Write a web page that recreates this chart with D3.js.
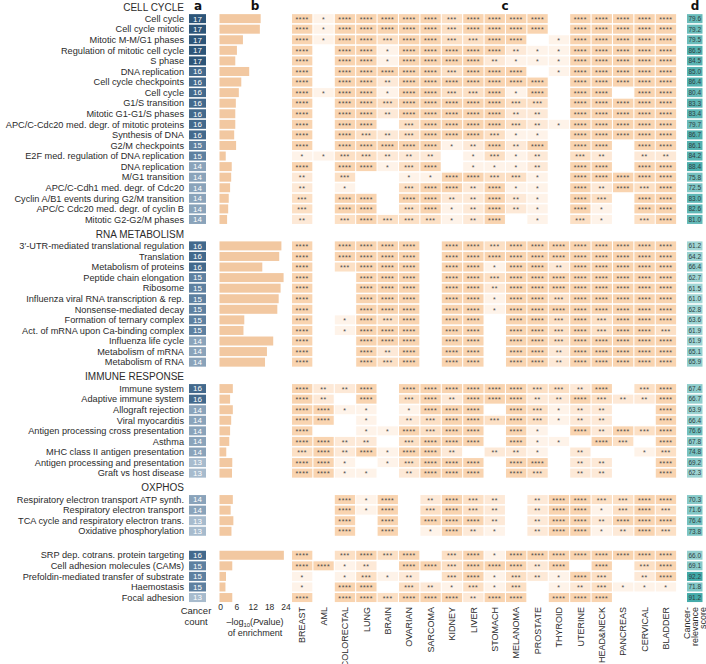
<!DOCTYPE html>
<html>
<head>
<meta charset="utf-8">
<script src="https://cdn.jsdelivr.net/npm/d3@7"></script>
<style>
  html, body { margin: 0; padding: 0; background: #fff; }
  svg { display: block; font-family: "Liberation Sans", Arial, sans-serif; }
</style>
</head>
<body>
<svg id="chart" width="706" height="664"></svg>
<script>
// ---------------- DATA ----------------
const cancers = ["BREAST","AML","COLORECTAL","LUNG","BRAIN","OVARIAN","SARCOMA","KIDNEY","LIVER","STOMACH","MELANOMA","PROSTATE","THYROID","UTERINE","HEAD&NECK","PANCREAS","CERVICAL","BLADDER"];

const groupNames = ["CELL CYCLE","RNA METABOLISM","IMMUNE RESPONSE","OXPHOS",""];

const terms = [
  // CELL CYCLE
  "Cell cycle","Cell cycle mitotic","Mitotic M-M/G1 phases","Regulation of mitotic cell cycle","S phase",
  "DNA replication","Cell cycle checkpoints","Cell cycle","G1/S transition","Mitotic G1-G1/S phases",
  "APC/C-Cdc20 med. degr. of mitotic proteins","Synthesis of DNA","G2/M checkpoints","E2F med. regulation of DNA replication","DNA replication",
  "M/G1 transition","APC/C-Cdh1 med. degr. of Cdc20","Cyclin A/B1 events during G2/M transition","APC/C Cdc20 med. degr. of cyclin B","Mitotic G2-G2/M phases",
  // RNA METABOLISM
  "3\u2032-UTR-mediated translational regulation","Translation","Metabolism of proteins","Peptide chain elongation","Ribosome",
  "Influenza viral RNA transcription & rep.","Nonsense-mediated decay","Formation of ternary complex","Act. of mRNA upon Ca-binding complex","Influenza life cycle",
  "Metabolism of mRNA","Metabolism of RNA",
  // IMMUNE RESPONSE
  "Immune system","Adaptive immune system","Allograft rejection","Viral myocarditis","Antigen processing cross presentation",
  "Asthma","MHC class II antigen presentation","Antigen processing and presentation","Graft vs host disease",
  // OXPHOS
  "Respiratory electron transport ATP synth.","Respiratory electron transport","TCA cycle and respiratory electron trans.","Oxidative phosphorylation",
  // other
  "SRP dep. cotrans. protein targeting","Cell adhesion molecules (CAMs)","Prefoldin-mediated transfer of substrate","Haemostasis","Focal adhesion"
];

const termGroup = [
  0,0,0,0,0,0,0,0,0,0,0,0,0,0,0,0,0,0,0,0,
  1,1,1,1,1,1,1,1,1,1,1,1,
  2,2,2,2,2,2,2,2,2,
  3,3,3,3,
  4,4,4,4,4
];

const cancerCount = [
  17,17,17,17,17,16,16,16,16,16,16,16,15,15,14,14,14,14,14,14,
  16,16,16,15,15,15,15,15,15,14,14,14,
  16,16,14,14,14,14,14,13,13,
  14,14,13,13,
  16,15,15,15,13
];

// -log10(P value) of enrichment
const enrichment = [
  14.9,14.6,8.4,6.2,5.6,10.7,7.8,6.9,5.8,5.6,5.6,5.2,5.9,2.1,4.3,4.1,3.7,3.2,3.0,2.6,
  22.5,21.7,15.5,23.3,22.2,21.5,21.0,8.9,8.6,19.5,17.2,16.5,
  4.7,3.7,4.7,4.1,3.7,3.4,2.3,4.5,4.4,
  4.7,3.9,4.9,4.2,
  23.4,4.5,2.2,2.0,4.5
];

const relevanceScore = [
  79.6,79.2,79.5,86.5,84.5,85.0,86.4,80.4,83.3,83.4,79.7,86.7,86.1,84.2,88.4,75.8,72.5,83.0,82.6,81.0,
  61.2,64.2,66.4,62.7,61.5,61.0,62.8,63.6,61.9,61.9,65.1,65.9,
  67.4,66.7,63.9,66.4,76.6,67.8,74.8,69.2,62.3,
  70.3,71.6,76.4,73.8,
  66.0,69.1,92.2,71.8,91.2
];

// number of significance stars per term (rows) and cancer (columns); 0 = not significant
const stars = [
  [4,1,4,4,4,4,4,3,4,4,4,4,0,4,4,4,4,4],
  [4,1,4,4,4,4,4,3,4,4,4,4,0,4,4,4,4,4],
  [4,1,4,4,3,4,4,3,3,4,4,0,1,4,4,4,4,4],
  [4,0,4,4,1,4,4,4,4,4,2,1,1,4,4,4,4,4],
  [4,0,4,4,1,4,4,4,4,2,1,1,1,4,4,4,4,4],
  [4,0,4,4,4,4,4,3,4,4,4,0,1,4,4,4,4,4],
  [4,0,4,4,2,4,4,4,4,4,4,4,0,4,4,4,4,4],
  [4,1,4,4,1,4,4,3,3,4,1,4,0,4,4,0,4,4],
  [4,0,4,4,3,4,4,4,4,4,3,3,0,4,4,4,4,4],
  [4,0,4,4,2,4,4,4,4,4,2,2,0,4,4,4,4,4],
  [4,0,4,4,0,3,4,4,4,4,3,2,1,4,4,4,4,4],
  [4,0,4,3,2,3,4,4,4,3,1,1,0,4,4,4,4,4],
  [4,0,4,4,4,4,4,1,2,4,2,4,0,4,4,0,4,4],
  [1,1,3,3,2,2,2,0,1,3,1,2,0,3,2,0,2,2],
  [4,0,4,4,1,3,4,0,1,1,1,2,0,4,4,0,4,4],
  [2,0,3,0,0,1,1,4,4,3,3,1,0,4,4,4,4,4],
  [2,0,1,0,0,3,4,4,2,4,1,1,0,4,2,4,3,4],
  [3,0,4,4,0,4,4,2,2,4,2,1,0,4,3,0,4,4],
  [3,0,4,4,0,3,4,1,2,4,2,1,0,4,1,0,4,4],
  [2,0,3,4,3,3,3,1,2,4,0,1,0,3,1,0,3,4],

  [4,0,4,4,4,4,0,4,4,3,4,4,4,4,4,4,4,4],
  [4,0,4,4,4,4,0,4,4,4,4,4,4,4,4,4,4,4],
  [4,0,3,4,4,4,0,4,4,1,4,4,2,4,4,4,4,4],
  [4,0,0,4,4,4,0,4,4,3,4,4,4,4,4,4,4,4],
  [4,0,0,4,4,4,0,4,4,2,4,4,4,4,4,4,4,4],
  [4,0,0,4,4,4,0,4,4,1,4,4,3,4,4,4,4,4],
  [4,0,0,4,4,4,0,4,4,1,4,4,4,4,4,4,4,4],
  [4,0,1,4,3,4,0,4,4,0,4,4,3,4,3,4,4,4],
  [4,0,1,4,4,4,0,4,4,0,4,4,3,4,3,4,4,3],
  [4,0,0,4,4,4,0,4,4,0,4,4,3,4,4,4,4,4],
  [4,0,0,4,2,4,0,4,4,0,4,4,2,4,4,4,4,4],
  [4,0,0,4,3,4,0,4,4,0,4,4,2,4,4,4,4,4],

  [4,2,2,4,0,4,4,4,4,4,4,3,3,2,4,0,3,4],
  [4,2,0,4,0,3,4,2,4,4,4,2,2,4,3,2,2,4],
  [4,4,1,1,0,1,4,4,4,0,4,3,1,2,2,0,0,4],
  [4,4,0,1,0,2,3,4,4,3,4,3,1,2,2,0,0,4],
  [4,0,0,1,1,4,3,4,4,0,4,1,0,4,2,4,3,4],
  [4,4,2,2,0,3,4,4,4,0,4,1,1,0,4,3,0,4],
  [3,4,2,4,1,4,4,2,0,2,2,1,0,2,0,0,1,3],
  [4,4,1,0,1,3,4,4,4,0,4,4,0,2,2,0,0,4],
  [4,4,1,1,0,2,4,4,4,0,4,3,0,2,2,0,0,4],

  [0,0,4,1,4,0,2,4,3,2,0,2,4,4,3,3,4,4],
  [0,0,4,1,4,0,3,4,3,2,0,2,4,4,1,3,4,3],
  [0,0,4,0,4,0,4,4,4,2,0,2,4,4,2,4,4,4],
  [0,0,4,0,4,0,1,4,2,1,0,2,4,4,1,2,4,3],

  [4,0,3,4,3,4,0,3,4,1,4,4,4,4,4,4,4,4],
  [4,4,1,2,0,4,4,3,4,4,4,2,4,0,4,0,3,4],
  [1,0,1,3,1,2,0,3,4,1,3,2,1,4,3,0,2,4],
  [1,0,4,4,0,3,2,1,3,1,3,0,1,2,3,1,1,1],
  [4,0,4,4,3,4,4,4,2,4,4,0,4,4,4,0,0,0]
];

const barTicks = [0, 6, 12, 18, 24];
const panelLetters = ["a","b","c","d"];

// ---------------- LAYOUT ----------------
const svg = d3.select("#chart");
const FONT = "'Liberation Sans', Arial, sans-serif";
const TEXT = "#2b2b2b";

// row slots: header then rows, with gaps between groups
const slotOfRow = [];
const headerSlot = [];
let slot = 0;
groupNames.forEach((g, gi) => {
  if (gi > 0) slot += (g === "" ? 1.17 : 1.4);
  headerSlot[gi] = slot;
  slot += 1.1;
  terms.forEach((t, i) => {
    if (termGroup[i] === gi) { slotOfRow[i] = slot; slot += 1; }
  });
  slot -= 1;
});
const y = d3.scaleLinear().domain([0, 1]).range([7, 7 + 10.57]);
const rowH = 9;

const xCell = d3.scaleBand().domain(cancers).range([292, 292 + 18 * 21.34]).paddingInner(0.05);
const xBar = d3.scaleLinear().domain([0, 24]).range([220, 285.5]);

const countColor = d3.scaleOrdinal()
  .domain([13, 14, 15, 16, 17])
  .range(["#a7bbcd", "#8aa3ba", "#5e80a0", "#43698c", "#2d5578"]);
const starColor = d3.scaleOrdinal()
  .domain([1, 2, 3, 4])
  .range(["#fef3e9", "#fde9d7", "#fce0c5", "#f9d4b0"]);
const scoreColor = d3.scaleLinear().domain([60, 93]).range(["#a6d8d7", "#3fa8a7"]);

// ---------------- GROUP HEADERS ----------------
svg.append("g").selectAll("text")
  .data(groupNames.map((g, i) => ({ g, i })).filter(d => d.g !== ""))
  .join("text")
  .attr("x", 184)
  .attr("y", d => y(headerSlot[d.i]))
  .attr("dy", "0.35em")
  .attr("text-anchor", "end")
  .attr("font-size", 10)
  .attr("fill", TEXT)
  .text(d => d.g);

// ---------------- PANEL LETTERS ----------------
const letterX = [198, 255, 505, 695];
svg.append("g").selectAll("text")
  .data(panelLetters)
  .join("text")
  .attr("x", (d, i) => letterX[i])
  .attr("y", 6)
  .attr("dy", "0.35em")
  .attr("text-anchor", "middle")
  .attr("font-size", 12)
  .attr("font-weight", "bold")
  .attr("font-family", "'DejaVu Sans', sans-serif")
  .attr("fill", "#111")
  .text(d => d);

// ---------------- ROW LABELS ----------------
svg.append("g").selectAll("text")
  .data(terms)
  .join("text")
  .attr("x", 184)
  .attr("y", (d, i) => y(slotOfRow[i]))
  .attr("dy", "0.35em")
  .attr("text-anchor", "end")
  .attr("font-size", 9.2)
  .attr("fill", TEXT)
  .text(d => d);

// ---------------- a: cancer count ----------------
const gA = svg.append("g");
gA.selectAll("rect")
  .data(cancerCount)
  .join("rect")
  .attr("x", 189)
  .attr("y", (d, i) => y(slotOfRow[i]) - rowH / 2)
  .attr("width", 17)
  .attr("height", rowH)
  .attr("fill", d => countColor(d));
gA.selectAll("text")
  .data(cancerCount)
  .join("text")
  .attr("x", 197.5)
  .attr("y", (d, i) => y(slotOfRow[i]))
  .attr("dy", "0.36em")
  .attr("text-anchor", "middle")
  .attr("font-size", 8)
  .attr("fill", "#fff")
  .text(d => d);

// ---------------- b: enrichment bars ----------------
const gB = svg.append("g");
gB.selectAll("rect")
  .data(enrichment)
  .join("rect")
  .attr("x", xBar(0) - 0.5)
  .attr("y", (d, i) => y(slotOfRow[i]) - rowH / 2)
  .attr("width", d => xBar(d) - xBar(0) + 0.5)
  .attr("height", rowH)
  .attr("fill", "#f2c8a1");

const axisB = svg.append("g")
  .attr("transform", "translate(0,604)")
  .call(d3.axisBottom(xBar).tickValues(barTicks).tickSize(0).tickPadding(0));
axisB.select(".domain").remove();
axisB.selectAll("text").attr("font-size", 8.5).attr("font-family", FONT).attr("fill", TEXT);

const lab = svg.append("text")
  .attr("x", 255)
  .attr("y", 625)
  .attr("text-anchor", "middle")
  .attr("font-size", 9)
  .attr("fill", TEXT);
lab.append("tspan").text("\u2013log");
lab.append("tspan").attr("font-size", 6).attr("dy", 2).text("10");
lab.append("tspan").attr("dy", -2).text("(");
lab.append("tspan").attr("font-style", "italic").text("P");
lab.append("tspan").text("value)");
svg.append("text")
  .attr("x", 255).attr("y", 636)
  .attr("text-anchor", "middle")
  .attr("font-size", 9).attr("fill", TEXT)
  .text("of enrichment");

svg.append("text")
  .attr("x", 196).attr("y", 614)
  .attr("text-anchor", "middle")
  .attr("font-size", 9.5).attr("fill", TEXT)
  .text("Cancer");
svg.append("text")
  .attr("x", 196).attr("y", 625)
  .attr("text-anchor", "middle")
  .attr("font-size", 9.5).attr("fill", TEXT)
  .text("count");

// ---------------- c: heatmap ----------------
const cells = [];
stars.forEach((row, i) => row.forEach((s, j) => {
  if (s > 0) cells.push({ i, c: cancers[j], s });
}));
const gC = svg.append("g");
gC.selectAll("rect")
  .data(cells)
  .join("rect")
  .attr("x", d => xCell(d.c))
  .attr("y", d => y(slotOfRow[d.i]) - rowH / 2)
  .attr("width", xCell.bandwidth())
  .attr("height", rowH)
  .attr("fill", d => starColor(d.s));
gC.selectAll("text")
  .data(cells)
  .join("text")
  .attr("x", d => xCell(d.c) + xCell.bandwidth() / 2)
  .attr("y", d => y(slotOfRow[d.i]) + 3.2)
  .attr("text-anchor", "middle")
  .attr("font-size", 7)
  .attr("letter-spacing", 0.6)
  .attr("fill", "#4a4a4a")
  .text(d => "*".repeat(d.s));

// column labels
svg.append("g").selectAll("text")
  .data(cancers)
  .join("text")
  .attr("transform", d => `translate(${xCell(d) + xCell.bandwidth() / 2},607) rotate(-90)`)
  .attr("dy", "0.35em")
  .attr("text-anchor", "end")
  .attr("font-size", 9)
  .attr("fill", TEXT)
  .text(d => d);

// ---------------- d: cancer-relevance score ----------------
const gD = svg.append("g");
gD.selectAll("rect")
  .data(relevanceScore)
  .join("rect")
  .attr("x", 687)
  .attr("y", (d, i) => y(slotOfRow[i]) - rowH / 2)
  .attr("width", 15.5)
  .attr("height", rowH)
  .attr("fill", d => scoreColor(d));
gD.selectAll("text")
  .data(relevanceScore)
  .join("text")
  .attr("x", 694.75)
  .attr("y", (d, i) => y(slotOfRow[i]))
  .attr("dy", "0.36em")
  .attr("text-anchor", "middle")
  .attr("font-size", 6.5)
  .attr("fill", "#2f3f3f")
  .text(d => d.toFixed(1));

const scoreLabel = ["Cancer-", "relevance", "score"];
svg.append("g").selectAll("text")
  .data(scoreLabel)
  .join("text")
  .attr("transform", (d, i) => `translate(${687 + i * 8},607) rotate(-90)`)
  .attr("dy", "0.35em")
  .attr("text-anchor", "end")
  .attr("font-size", 9)
  .attr("fill", TEXT)
  .text(d => d);
</script>
</body>
</html>
